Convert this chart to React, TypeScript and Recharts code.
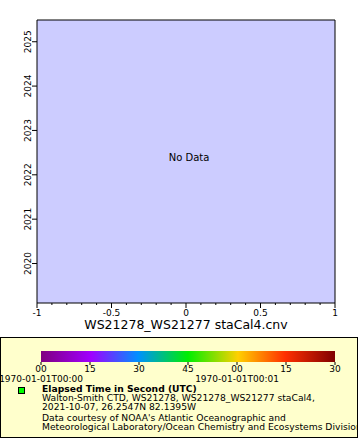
import React from "react";
import {
  ScatterChart,
  Scatter,
  XAxis,
  YAxis,
  ReferenceArea,
} from "recharts";

// station series is empty: the graph shows "No Data"
const points: { x: number; year: number }[] = [];

const xTicks = [
  -1, -0.9, -0.8, -0.7, -0.6, -0.5, -0.4, -0.3, -0.2, -0.1, 0, 0.1, 0.2, 0.3,
  0.4, 0.5, 0.6, 0.7, 0.8, 0.9, 1,
];
const yearTicks = [2020, 2021, 2022, 2023, 2024, 2025];
const yearDomain = [2019.11, 2025.49];

// colour bar: elapsed seconds
const colorTicks = [0, 15, 30, 45, 60, 75, 90];
const colorStops = [
  { offset: 0, color: "#800080" },
  { offset: 0.17, color: "#a000ff" },
  { offset: 0.33, color: "#0090ff" },
  { offset: 0.5, color: "#00ee00" },
  { offset: 0.67, color: "#ffd000" },
  { offset: 0.83, color: "#ff3000" },
  { offset: 1, color: "#800000" },
];

const legendTitle = "Elapsed Time in Second (UTC)";
const stationLines = [
  "Walton-Smith CTD, WS21278, WS21278_WS21277 staCal4,",
  "2021-10-07, 26.2547N 82.1395W",
];
const creditLines = [
  "Data courtesy of NOAA's Atlantic Oceanographic and",
  "Meteorological Laboratory/Ocean Chemistry and Ecosystems Division",
];

const font = "'DejaVu Sans', sans-serif";

function isMajor(v: number) {
  return Math.abs(v * 2 - Math.round(v * 2)) < 1e-6;
}

function XTick(props: any) {
  const { x, y, payload } = props;
  const v = payload.value;
  const major = isMajor(v);
  const top = y - 6;
  const label = v === 0 ? "0" : String(v);
  return (
    <g>
      <line x1={x} x2={x} y1={top} y2={top + (major ? 5 : 2)} stroke="#000" />
      {major && (
        <text x={x} y={top + 13} textAnchor="middle" fontSize={9} fill="#000" fontFamily={font}>
          {label}
        </text>
      )}
    </g>
  );
}

function YTick(props: any) {
  const { y, payload } = props;
  return (
    <g>
      <line x1={32} x2={37} y1={y} y2={y} stroke="#000" />
      <text
        transform={`translate(31, ${y}) rotate(-90)`}
        textAnchor="middle"
        fontSize={9}
        fill="#000"
        fontFamily={font}
      >
        {payload.value}
      </text>
    </g>
  );
}

function pad2(n: number) {
  return String(n).padStart(2, "0");
}

function ColorTick(props: any) {
  const { x, y, payload } = props;
  const v = payload.value;
  const top = y - 3;
  const stamp = new Date(v * 1000).toISOString().slice(0, 16);
  return (
    <g>
      <line x1={x} x2={x} y1={top} y2={top + 3} stroke="#000" />
      <text x={x} y={top + 10} textAnchor="middle" fontSize={9} fill="#000" fontFamily={font}>
        {pad2(v % 60)}
      </text>
      {v % 60 === 0 && v < 90 && (
        <text x={x} y={top + 20} textAnchor="middle" fontSize={9} fill="#000" fontFamily={font}>
          {stamp}
        </text>
      )}
    </g>
  );
}

export default function App() {
  return (
    <div
      style={{
        position: "absolute",
        left: 0,
        top: 0,
        width: 360,
        height: 440,
        background: "#fff",
        fontFamily: font,
        overflow: "hidden",
      }}
    >
      <ScatterChart width={360} height={337} margin={{ top: 20, right: 25, left: 0, bottom: 0 }}>
        <XAxis
          type="number"
          dataKey="x"
          domain={[-1, 1]}
          ticks={xTicks}
          interval={0}
          allowDataOverflow
          height={34}
          tickSize={6}
          tickMargin={0}
          tickLine={false}
          axisLine={false}
          tick={<XTick />}
          label={{
            value: "WS21278_WS21277 staCal4.cnv",
            position: "insideBottom",
            offset: 8,
            fontSize: 12.5,
            fill: "#000",
            fontFamily: font,
          }}
        />
        <YAxis
          type="number"
          dataKey="year"
          domain={yearDomain}
          ticks={yearTicks}
          allowDataOverflow
          width={37}
          tickLine={false}
          axisLine={false}
          tick={<YTick />}
        />
        <ReferenceArea
          x1={-1}
          x2={1}
          y1={yearDomain[0]}
          y2={yearDomain[1]}
          fill="#ccccff"
          fillOpacity={1}
          stroke="#000"
          strokeWidth={1}
          label={{
            value: "No Data",
            position: "center",
            dx: 3,
            dy: -4,
            fontSize: 10,
            fill: "#000",
            fontFamily: font,
          }}
        />
        <Scatter data={points} fill="#00ff00" isAnimationActive={false} />
      </ScatterChart>

      <div
        style={{
          position: "absolute",
          left: 0,
          top: 337,
          width: 356,
          height: 99,
          background: "#ffffcc",
          border: "1px solid #000",
        }}
      />
      <div style={{ position: "absolute", left: 0, top: 340 }}>
        <ScatterChart width={360} height={60} margin={{ top: 11, right: 25, left: 41, bottom: 0 }}>
          <defs>
            <linearGradient id="rainbow" x1="0" y1="0" x2="1" y2="0">
              {colorStops.map((s) => (
                <stop key={s.offset} offset={s.offset} stopColor={s.color} />
              ))}
            </linearGradient>
          </defs>
          <XAxis
            type="number"
            dataKey="t"
            domain={[0, 90]}
            ticks={colorTicks}
            interval={0}
            allowDataOverflow
            height={38}
            tickSize={3}
            tickMargin={0}
            tickLine={false}
            axisLine={false}
            tick={<ColorTick />}
          />
          <YAxis type="number" dataKey="v" domain={[0, 1]} allowDataOverflow hide />
          <ReferenceArea
            x1={0}
            x2={90}
            y1={0}
            y2={1}
            fill="url(#rainbow)"
            fillOpacity={1}
            stroke="none"
          />
          <Scatter data={[]} isAnimationActive={false} />
        </ScatterChart>
      </div>

      <div
        style={{
          position: "absolute",
          left: 18,
          top: 387,
          width: 5,
          height: 5,
          background: "#00ff00",
          border: "1px solid #000",
        }}
      />
      <div
        style={{
          position: "absolute",
          left: 42,
          top: 384,
          width: 315,
          clipPath: "inset(-10px 0px -10px -10px)",
          whiteSpace: "nowrap",
          fontSize: 9.2,
          lineHeight: "9px",
          color: "#000",
        }}
      >
        <div style={{ fontWeight: "bold" }}>{legendTitle}</div>
        {stationLines.map((l) => (
          <div key={l}>{l}</div>
        ))}
        <div style={{ height: 1.5 }} />
        {creditLines.map((l) => (
          <div key={l}>{l}</div>
        ))}
      </div>
    </div>
  );
}
